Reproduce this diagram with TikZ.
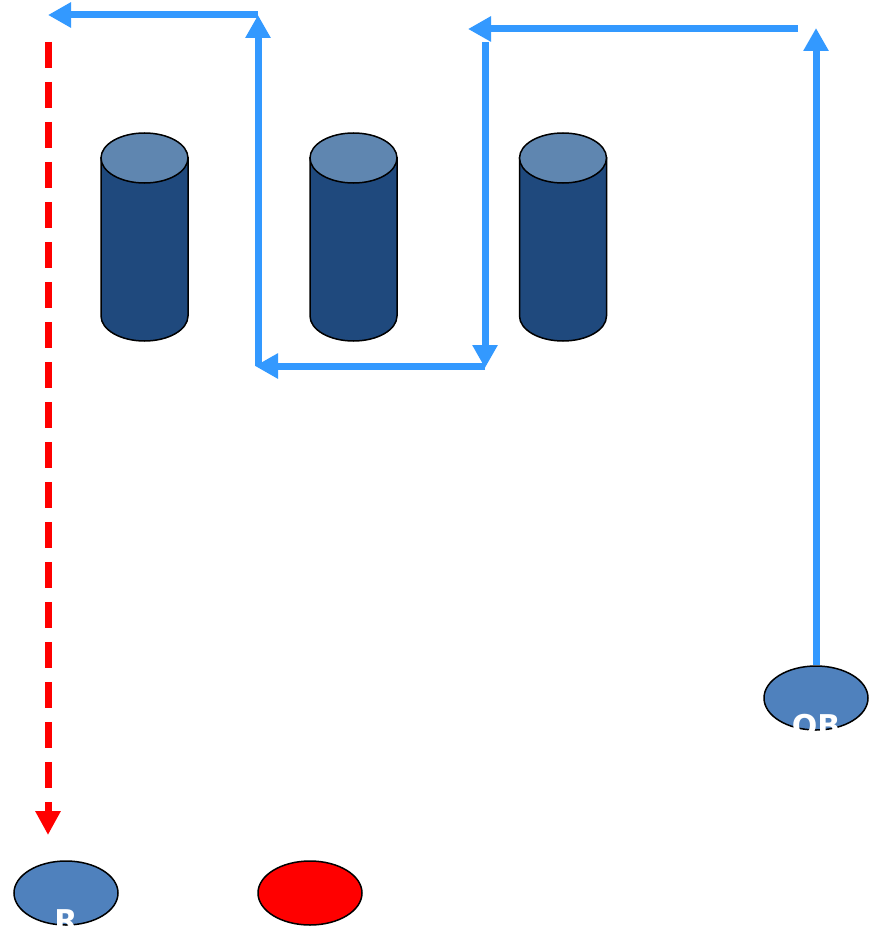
\documentclass[tikz,border=0pt]{standalone}
\usepackage{fontspec}
\setmainfont{DejaVu Sans}
\usetikzlibrary{arrows.meta,shapes.geometric}
\definecolor{routeblue}{HTML}{3399FF}
\definecolor{cylbody}{HTML}{1F497D}
\definecolor{cyltop}{HTML}{5F86B0}
\definecolor{playerblue}{HTML}{4F81BD}
\tikzset{
  route/.style={draw=routeblue,line width=7pt,-{Triangle[length=23pt,width=24pt]}},
  redroute/.style={draw=red,line width=7pt,dash pattern=on 26pt off 14pt,-{Triangle[length=24pt,width=24pt]}},
  player/.style={ellipse,draw=black,line width=1.5pt,fill=playerblue,minimum width=104pt,minimum height=64pt,inner sep=0pt},
  redplayer/.style={ellipse,draw=black,line width=1.5pt,fill=red,minimum width=104pt,minimum height=64pt,inner sep=0pt},
  plabel/.style={text=white,font=\bfseries\fontsize{30}{30}\selectfont,inner sep=0pt}
}
\newcommand{\cone}[2]{%
  \fill[cylbody,draw=black,line width=1.5pt] (#1-43.5,#2) -- (#1-43.5,#2+158) arc[start angle=180,end angle=0,x radius=43.5,y radius=25] -- (#1+43.5,#2) -- cycle;
  \draw[fill=cyltop,line width=1.5pt] (#1,#2) ellipse[x radius=43.5,y radius=25];
}
\begin{document}
\begin{tikzpicture}[x=1pt,y=-1pt]
\useasboundingbox (0,0) rectangle (872,928);
% cylinders
\cone{144.5}{158}
\cone{353.5}{158}
\cone{563}{158}
% players
\node[player] (qb) at (816,698) {};
\node[plabel,anchor=north] (qbl) at (816,714) {QB};
\node[player] (r) at (66,893) {};
\node[plabel,anchor=north] (rl) at (66,909) {R};
\node[redplayer] (d) at (310,893) {};
% route corners
\coordinate (a1) at (258,366);
\coordinate (a2) at (258,15);
\coordinate (a3) at (48,15);
\coordinate (b1) at (485,42);
\coordinate (b2) at (485,368);
\coordinate (b3) at (485,366);
\coordinate (b4) at (255,366);
\coordinate (c1) at (816,28);
\coordinate (c2) at (798,29);
\coordinate (c3) at (468,29);
\coordinate (e1) at (48,42);
\coordinate (e2) at (48,835);
% routes
\draw[route] (a1) -- (a2);
\draw[route] (a2) -- (a3);
\draw[route] (b1) -- (b2);
\draw[route] (b3) -- (b4);
\draw[route] (qb.north) -- (c1);
\draw[route] (c2) -- (c3);
\draw[redroute] (e1) -- (e2);
\end{tikzpicture}
\end{document}
